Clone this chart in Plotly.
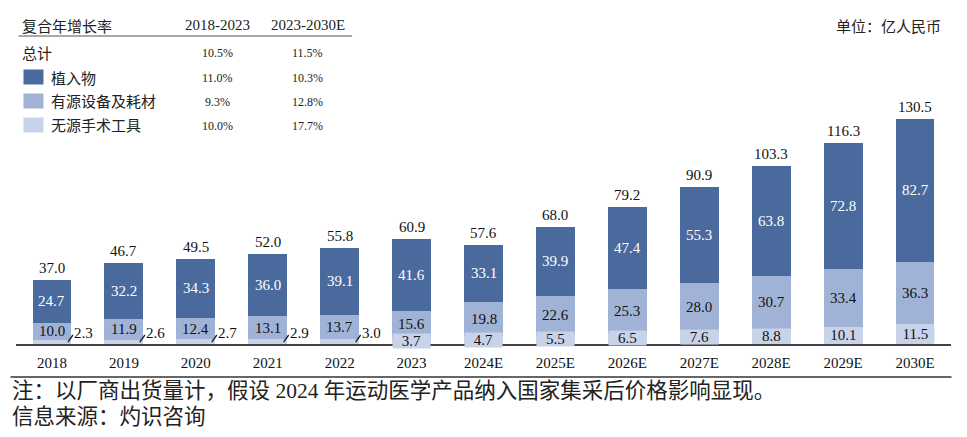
import plotly.graph_objects as go

# ---------------- data ----------------
years = ["2018", "2019", "2020", "2021", "2022", "2023", "2024E", "2025E",
         "2026E", "2027E", "2028E", "2029E", "2030E"]
implant = [24.7, 32.2, 34.3, 36.0, 39.1, 41.6, 33.1, 39.9, 47.4, 55.3, 63.8, 72.8, 82.7]
active = [10.0, 11.9, 12.4, 13.1, 13.7, 15.6, 19.8, 22.6, 25.3, 28.0, 30.7, 33.4, 36.3]
passive = [2.3, 2.6, 2.7, 2.9, 3.0, 3.7, 4.7, 5.5, 6.5, 7.6, 8.8, 10.1, 11.5]
totals = [37.0, 46.7, 49.5, 52.0, 55.8, 60.9, 57.6, 68.0, 79.2, 90.9, 103.3, 116.3, 130.5]
passive_label_outside = [True, True, True, True, True, False, False, False,
                         False, False, False, False, False]

series_names = ["植入物", "有源设备及耗材", "无源手术工具"]
cagr_rows = ["总计", "植入物", "有源设备及耗材", "无源手术工具"]
cagr_2018_2023 = ["10.5%", "11.0%", "9.3%", "10.0%"]
cagr_2023_2030 = ["11.5%", "10.3%", "12.8%", "17.7%"]
cagr_headers = ["复合年增长率", "2018-2023", "2023-2030E"]

unit_text = "单位：亿人民币"
note_text = "注：以厂商出货量计，假设 2024 年运动医学产品纳入国家集采后价格影响显现。"
source_text = "信息来源：灼识咨询"

# ---------------- geometry (reference pixels, page offset compensated) -------
OFF = 8                      # page body margin
W, H = 967 - OFF, 437 - OFF
AX_L, AX_R, AX_Y, TOP = 15.5, 951.5, 344, 100   # reference pixel positions
ML = AX_L - OFF
MR = W - (AX_R - OFF)
MT = TOP - OFF
MB = H - (AX_Y - OFF)
YMAX = 141.5
PW = W - ML - MR
PH = H - MT - MB
PPU = PH / YMAX           # pixels per data unit
SLOT = PW / len(years)    # pixels per category

C_DARK = "#4A6A9E"
C_MID = "#A0B3D6"
C_LIGHT = "#C8D2E8"

SERIF = "Liberation Serif, Noto Sans CJK SC"
CJK = "Noto Sans CJK SC"
BAR_W = 0.54


def px(x):
    return (x - OFF - ML) / PW


def py(y):
    return (H - MB - (y - OFF)) / PH


def note(x, y, text, font, xanchor="center", **kw):
    return dict(xref="paper", yref="paper", x=px(x), y=py(y), text=text,
                showarrow=False, xanchor=xanchor, yanchor="middle",
                font=font, **kw)


fig = go.Figure()
for name, vals, col in [(series_names[2], passive, C_LIGHT),
                        (series_names[1], active, C_MID),
                        (series_names[0], implant, C_DARK)]:
    fig.add_trace(go.Bar(x=years, y=vals, name=name, marker_color=col,
                         marker_line_width=0, width=BAR_W, showlegend=False,
                         hoverinfo="x+y+name"))

ann = []
shapes = []
f_white = dict(family=SERIF, size=15, color="white")
f_black = dict(family=SERIF, size=15, color="#111")
for i, yr in enumerate(years):
    p, a, d = passive[i], active[i], implant[i]
    base = dict(x=i, showarrow=False, xanchor="center", yanchor="middle")
    ann.append(dict(base, y=p + a + d / 2, text=f"{d:.1f}", font=f_white))
    ann.append(dict(base, y=p + a / 2, text=f"{a:.1f}", font=f_black))
    ann.append(dict(base, y=totals[i], text=f"{totals[i]:.1f}", yshift=12,
                    font=f_black))
    if passive_label_outside[i]:
        ann.append(dict(base, y=0, text=f"{p:.1f}", xshift=32, yshift=11,
                        font=f_black))
        shapes.append(dict(type="line", xref="x", yref="y",
                           x0=i + 16 / SLOT, x1=i + 21 / SLOT,
                           y0=2 / PPU, y1=9 / PPU,
                           line=dict(color="#222", width=1.3)))
    else:
        ann.append(dict(base, y=p / 2, text=f"{p:.1f}", bgcolor=C_LIGHT,
                        width=BAR_W * SLOT - 2, height=14, borderpad=0,
                        font=f_black))

# ---- CAGR table ----
f_cjk = dict(family=CJK, size=15, color="#222")
f_hdr = dict(family=SERIF, size=15, color="#222")
f_val = dict(family=SERIF, size=12, color="#222")
ann.append(note(20, 25, cagr_headers[0], f_cjk, xanchor="left"))
ann.append(note(217, 25, cagr_headers[1], f_hdr))
ann.append(note(307.5, 25, cagr_headers[2], f_hdr))
shapes.append(dict(type="line", xref="paper", yref="paper",
                   x0=px(18), x1=px(352), y0=py(36), y1=py(36),
                   line=dict(color="#8c8c8c", width=1.5)))
row_y = [52, 77, 101, 125]
swatch_cols = [None, C_DARK, C_MID, C_LIGHT]
for k, row in enumerate(cagr_rows):
    yy = row_y[k]
    if swatch_cols[k] is None:
        ann.append(note(20, yy, row, f_cjk, xanchor="left"))
    else:
        shapes.append(dict(type="rect", xref="paper", yref="paper",
                           x0=px(23), x1=px(43), y0=py(yy + 7.5), y1=py(yy - 7.5),
                           fillcolor=swatch_cols[k], line=dict(width=0)))
        ann.append(note(49, yy, row, f_cjk, xanchor="left"))
    ann.append(note(217, yy + 1, cagr_2018_2023[k], f_val))
    ann.append(note(307.5, yy + 1, cagr_2023_2030[k], f_val))

# unit
ann.append(note(943, 25, unit_text, f_cjk, xanchor="right"))

# footer
shapes.append(dict(type="line", xref="paper", yref="paper",
                   x0=px(10), x1=px(952), y0=py(377), y1=py(377),
                   line=dict(color="#333", width=1.5)))
f_foot = dict(family=SERIF, size=21.5, color="#222")
ann.append(note(9, 391, note_text, f_foot, xanchor="left"))
ann.append(note(9, 417, source_text, f_foot, xanchor="left"))

fig.update_layout(
    width=W, height=H, barmode="stack",
    margin=dict(l=ML, r=MR, t=MT, b=MB, pad=0, autoexpand=False),
    paper_bgcolor="white", plot_bgcolor="white",
    annotations=ann, shapes=shapes,
    xaxis=dict(type="category", range=[-0.5, len(years) - 0.5],
               showline=True, linecolor="#444", linewidth=2,
               showgrid=False, zeroline=False, ticks="",
               ticklabelstandoff=4,
               tickfont=dict(family=SERIF, size=15, color="#111")),
    yaxis=dict(range=[0, YMAX], visible=False, showgrid=False, zeroline=False),
)

fig.write_html("out.html")
